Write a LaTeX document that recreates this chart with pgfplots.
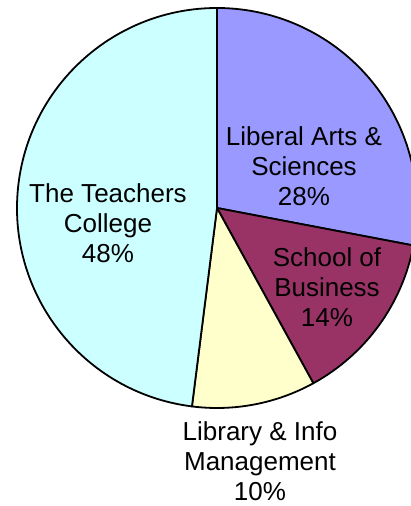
\documentclass[border=0pt]{standalone}
\usepackage{pgfplots}
\usepackage{pgfplotstable}
\pgfplotsset{compat=1.18}
\usepackage{fontspec}
\setmainfont{Liberation Sans}

\definecolor{lasblue}{RGB}{153,153,255}
\definecolor{sobwine}{RGB}{153,51,102}
\definecolor{limcream}{RGB}{255,255,204}
\definecolor{ttccyan}{RGB}{204,255,255}

% enrolment share by college, in percent (clockwise from 12 o'clock)
\pgfplotstableread{
dept share
LAS 28
SOB 14
LIM 10
TTC 48
}\sharetable

\begin{document}
\begin{tikzpicture}
    \pgfplotstablegetelem{0}{share}\of\sharetable \let\sA\pgfplotsretval
    \pgfplotstablegetelem{1}{share}\of\sharetable \let\sB\pgfplotsretval
    \pgfplotstablegetelem{2}{share}\of\sharetable \let\sC\pgfplotsretval
    \pgfplotstablegetelem{3}{share}\of\sharetable \let\sD\pgfplotsretval
    \pgfmathsetmacro\aA{90}
    \pgfmathsetmacro\aB{\aA-3.6*\sA}
    \pgfmathsetmacro\aC{\aB-3.6*\sB}
    \pgfmathsetmacro\aD{\aC-3.6*\sC}
    \pgfmathsetmacro\aE{\aD-3.6*\sD}
    \begin{axis}[
            name=pie,
            scale only axis,
            width=411pt, height=506pt,
            xmin=0, xmax=411, ymin=0, ymax=506,
            hide axis,
            clip=false,
        ]
        \def\cx{217}\def\cy{298}\def\R{200pt}
        \tikzset{wedge/.style={draw=black, line width=1.8pt, line join=round}}
        \filldraw[wedge, fill=lasblue] (axis cs:\cx,\cy) -- ++(\aA:\R)
            arc[start angle=\aA, end angle=\aB, radius=\R] -- cycle;
        \filldraw[wedge, fill=sobwine] (axis cs:\cx,\cy) -- ++(\aB:\R)
            arc[start angle=\aB, end angle=\aC, radius=\R] -- cycle;
        \filldraw[wedge, fill=limcream] (axis cs:\cx,\cy) -- ++(\aC:\R)
            arc[start angle=\aC, end angle=\aD, radius=\R] -- cycle;
        \filldraw[wedge, fill=ttccyan] (axis cs:\cx,\cy) -- ++(\aD:\R)
            arc[start angle=\aD, end angle=\aE, radius=\R] -- cycle;

        \tikzset{lab/.style={align=center, inner sep=0pt, font=\fontsize{26}{30}\selectfont}}
        \node[lab] at (axis cs:304,340) {Liberal Arts \&\\Sciences\\\sA\%};
        \node[lab] at (axis cs:327,219) {School of\\Business\\\sB\%};
        \node[lab] at (axis cs:260,45) {Library \& Info\\Management\\\sC\%};
        \node[lab] at (axis cs:108,283) {The Teachers\\College\\\sD\%};
    \end{axis}
    \pgfresetboundingbox
    \path (pie.south west) rectangle (pie.north east);
\end{tikzpicture}
\end{document}
